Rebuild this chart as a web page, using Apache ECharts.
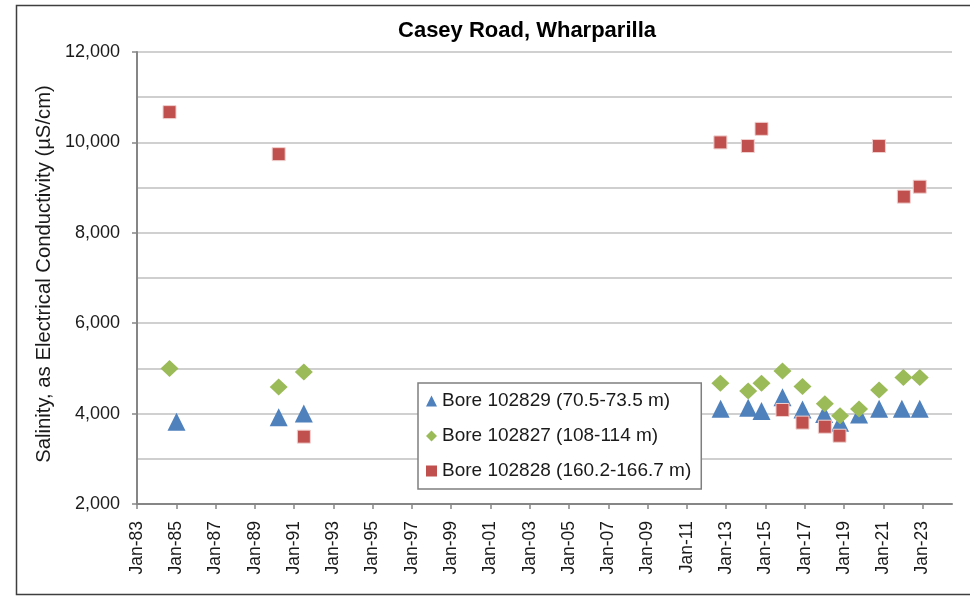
<!DOCTYPE html>
<html>
<head>
<meta charset="utf-8">
<title>Casey Road, Wharparilla</title>
<script src="https://cdn.jsdelivr.net/npm/echarts@6/dist/echarts.min.js"></script>
<style>
  html, body { margin: 0; padding: 0; background: #fff; }
  #chart { width: 970px; height: 596px; }
</style>
</head>
<body>
<div id="chart"></div>
<script>
// Salinity samples per bore: sample dates and EC values (µS/cm)
const seriesNames = [
  'Bore 102829 (70.5-73.5 m)',
  'Bore 102827 (108-114 m)',
  'Bore 102828 (160.2-166.7 m)'
];

const bore102829Dates = [
  '1985-01-05', '1990-03-20', '1991-07-01', '2012-09-20', '2014-02-14',
  '2014-10-20', '2015-11-14', '2016-11-20', '2017-12-28', '2018-10-20',
  '2019-10-08', '2020-10-15', '2021-12-13', '2022-11-10'
];
const bore102829Values = [
  3820, 3920, 4000, 4110, 4130,
  4055, 4360, 4090, 3990, 3800,
  3980, 4110, 4110, 4110
];

const bore102827Dates = [
  '1984-08-28', '1990-03-20', '1991-07-01', '2012-09-15', '2014-02-14',
  '2014-10-20', '2015-11-14', '2016-11-20', '2018-01-10', '2018-10-20',
  '2019-10-08', '2020-10-15', '2022-01-10', '2022-11-10'
];
const bore102827Values = [
  5000, 4590, 4920, 4670, 4500,
  4670, 4945, 4600, 4220, 3950,
  4100, 4520, 4800, 4800
];

const bore102828Dates = [
  '1984-08-28', '1990-03-20', '1991-07-01', '2012-09-15', '2014-02-07',
  '2014-10-20', '2015-11-14', '2016-11-20', '2018-01-10', '2018-10-10',
  '2020-10-12', '2022-01-18', '2022-11-10'
];
const bore102828Values = [
  10670, 9740, 3490, 10000, 9920,
  10300, 4080, 3800, 3710, 3510,
  9920, 8800, 9020
];

// Axis settings
const xStartYear = 1983;
const xSpanYears = 41.5;
const xTickYears = 2;
const yMin = 2000;
const yMax = 12000;
const yTick = 2000;

const colors = ['#4f81bd', '#9bbb59', '#c0504d'];
const fontFamily = '"Liberation Sans", Arial, sans-serif';

// Dates are placed on a numeric axis measured in years since Jan 1983
const YEAR_MS = 365.25 * 86400000;
const originMs = Date.UTC(xStartYear, 0, 1);
function yearsSinceStart(dateStr) {
  const [y, m, d] = dateStr.split('-').map(Number);
  return (Date.UTC(y, m - 1, d) - originMs) / YEAR_MS;
}
function pairs(dates, values) {
  return dates.map((d, i) => [yearsSinceStart(d), values[i]]);
}

const chart = echarts.init(document.getElementById('chart'), null, { renderer: 'canvas' });

const gridColor = '#c0c0c0';
const axisColor = '#868686';

chart.setOption({
  animation: false,
  backgroundColor: '#fff',
  textStyle: { fontFamily: fontFamily },
  graphic: [{
    type: 'rect',
    shape: { x: 16.5, y: 5.5, width: 1000, height: 589 },
    style: { fill: 'none', stroke: '#3f3f3f', lineWidth: 1.5 },
    silent: true,
    z: -10
  }],
  title: {
    text: 'Casey Road, Wharparilla',
    left: 522,
    top: 15,
    textAlign: 'center',
    textStyle: { fontFamily: fontFamily, fontSize: 22, fontWeight: 'bold', color: '#000' }
  },
  grid: { left: 137, right: 18, top: 52, bottom: 92, containLabel: false },
  xAxis: {
    type: 'value',
    min: 0,
    max: xSpanYears,
    interval: xTickYears,
    axisLine: { show: true, lineStyle: { color: axisColor, width: 2 } },
    axisTick: { show: true, inside: false, length: 5, lineStyle: { color: axisColor, width: 1.5 } },
    splitLine: { show: false },
    axisLabel: {
      rotate: 90,
      margin: 17,
      fontSize: 17.5,
      color: '#1a1a1a',
      fontFamily: fontFamily,
      showMaxLabel: false,
      formatter: function (v) {
        const yr = Math.round(xStartYear + v) % 100;
        return 'Jan-' + String(yr).padStart(2, '0');
      }
    }
  },
  yAxis: {
    type: 'value',
    min: yMin,
    max: yMax,
    interval: yTick,
    name: 'Salinity, as Electrical Conductivity (µS/cm)',
    nameLocation: 'middle',
    nameGap: 82,
    nameTextStyle: { fontSize: 20.3, color: '#1a1a1a', fontFamily: fontFamily, padding: [0, 0, 0, 8] },
    axisLine: { show: true, lineStyle: { color: axisColor, width: 2 } },
    axisTick: { show: true, inside: false, length: 5, lineStyle: { color: axisColor, width: 1.5 } },
    minorTick: { show: false, splitNumber: 2 },
    splitLine: { show: true, lineStyle: { color: gridColor, width: 1.5 } },
    minorSplitLine: { show: true, lineStyle: { color: gridColor, width: 1.5 } },
    axisLabel: {
      margin: 17,
      fontSize: 18,
      color: '#1a1a1a',
      fontFamily: fontFamily,
      formatter: function (v) { return v.toLocaleString('en-US'); }
    }
  },
  legend: {
    orient: 'vertical',
    left: 418,
    top: 383,
    padding: [8, 10, 8, 8],
    itemGap: 15,
    itemWidth: 11,
    itemHeight: 11,
    itemStyle: { borderWidth: 0 },
    backgroundColor: '#fff',
    borderColor: '#7f7f7f',
    borderWidth: 1.5,
    textStyle: { fontSize: 19, lineHeight: 20, color: '#1a1a1a', fontFamily: fontFamily },
    data: seriesNames
  },
  series: [
    {
      name: seriesNames[0],
      type: 'scatter',
      symbol: 'triangle',
      symbolSize: 18,
      itemStyle: { color: colors[0], opacity: 1 },
      data: pairs(bore102829Dates, bore102829Values)
    },
    {
      name: seriesNames[1],
      type: 'scatter',
      symbol: 'diamond',
      symbolSize: [18, 17],
      itemStyle: { color: colors[1], opacity: 1 },
      data: pairs(bore102827Dates, bore102827Values)
    },
    {
      name: seriesNames[2],
      type: 'scatter',
      symbol: 'rect',
      symbolSize: 13,
      itemStyle: { color: colors[2], opacity: 1, borderColor: '#f0d0cf', borderWidth: 1 },
      data: pairs(bore102828Dates, bore102828Values)
    }
  ]
});
</script>
</body>
</html>
